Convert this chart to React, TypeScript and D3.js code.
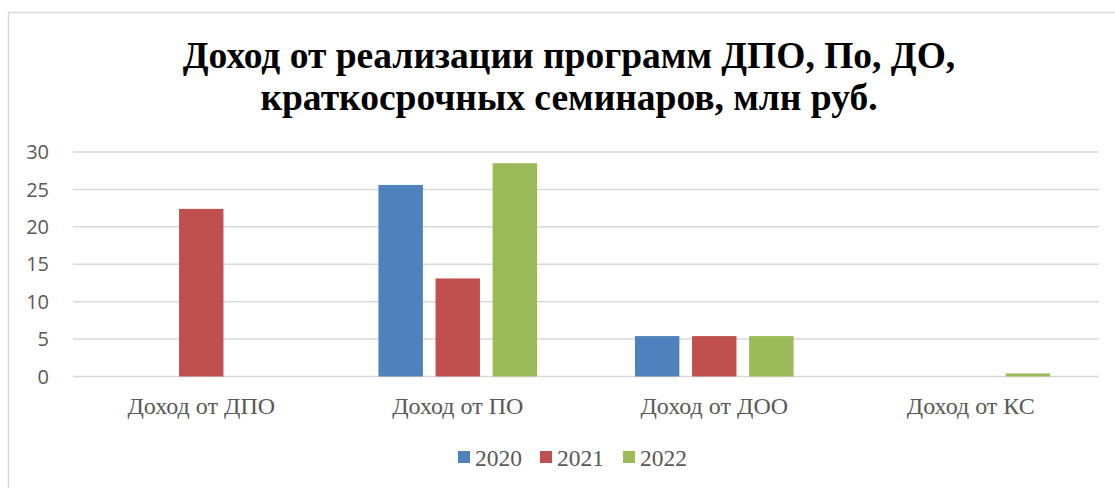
import React from "react";
import * as d3 from "d3";

const categories = ["Доход от ДПО", "Доход от ПО", "Доход от ДОО", "Доход от КС"];
const years = ["2020", "2021", "2022"];
const values2020 = [0, 25.6, 5.4, 0];
const values2021 = [22.4, 13.1, 5.4, 0];
const values2022 = [0, 28.5, 5.4, 0.4];
const yTicks = [0, 5, 10, 15, 20, 25, 30];
const titleLines = ["Доход от реализации программ ДПО, По, ДО,", "краткосрочных семинаров, млн руб."];
const colors = ["#4F81BD", "#C0504D", "#9BBB59"];

const W = 1115;
const H = 488;
const plotLeft = 73;
const plotRight = 1099;
const plotTop = 152;
const plotBottom = 376.5;
const SERIF = "Liberation Serif, Times New Roman, serif";

export default function App() {
  const series = [values2020, values2021, values2022];
  const x0 = d3.scaleBand<string>().domain(categories).range([plotLeft, plotRight]).padding(0);
  const groupW = 158.6;
  const x1 = d3.scaleBand<string>().domain(years).range([0, groupW]).paddingInner(0.222).paddingOuter(0);
  const y = d3.scaleLinear().domain([0, 30]).range([plotBottom, plotTop]);

  const legendX = [458, 540, 623];

  return (
    <svg width={W} height={H} style={{ position: "absolute", left: 0, top: 0, background: "#fff" }}>
      <rect x={8.5} y={12.5} width={1200} height={600} fill="#fff" stroke="#d9d9d9" strokeWidth={1.5} />
      <g style={{ fontFamily: SERIF, fontWeight: 700, fontSize: "37.5px" }} fill="#000" textAnchor="middle">
        {titleLines.map((t, i) => (
          <text key={i} x={569} y={68 + i * 42}>{t}</text>
        ))}
      </g>
      {yTicks.map((t) => (
        <g key={t}>
          <line x1={plotLeft} x2={plotRight} y1={y(t)} y2={y(t)} stroke="#d9d9d9" strokeWidth={1.5} />
          <text x={49} y={y(t)} dy="0.36em" textAnchor="end" style={{ fontFamily: "Open Sans, sans-serif", fontSize: "20px" }} fill="#595959">{t}</text>
        </g>
      ))}
      {categories.map((c, ci) => {
        const cx = (x0(c) as number) + x0.bandwidth() / 2;
        return (
          <g key={c}>
            {years.map((yr, si) => {
              const v = series[si][ci];
              if (v <= 0) return null;
              const bx = cx - groupW / 2 + (x1(yr) as number);
              return (
                <rect key={yr} x={bx} y={y(v)} width={x1.bandwidth()} height={plotBottom - y(v)} fill={colors[si]} />
              );
            })}
            <text x={cx} y={414} textAnchor="middle" style={{ fontFamily: SERIF, fontSize: "24px" }} fill="#595959">{c}</text>
          </g>
        );
      })}
      {years.map((yr, i) => (
        <g key={yr}>
          <rect x={legendX[i]} y={451} width={12} height={12} fill={colors[i]} />
          <text x={legendX[i] + 17} y={466} style={{ fontFamily: SERIF, fontSize: "23.5px" }} fill="#595959">{yr}</text>
        </g>
      ))}
    </svg>
  );
}
